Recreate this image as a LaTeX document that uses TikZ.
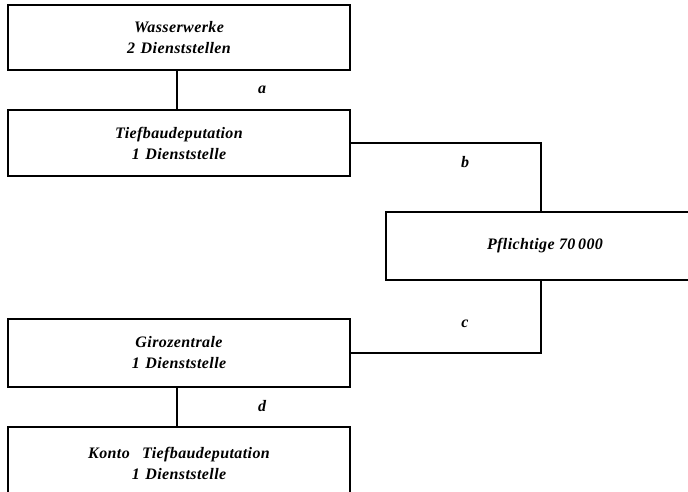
\documentclass[tikz,border=0pt]{standalone}
\usepackage{fontspec}
\setmainfont{Liberation Serif}
\newcommand{\gap}{\hspace{0.35em}}
\begin{document}
\begin{tikzpicture}[x=1pt,y=-1pt,
  box/.style={draw,line width=1.2pt,inner sep=0pt,align=center,font=\fontsize{16}{21}\selectfont\bfseries\itshape\addfontfeatures{LetterSpace=2.5}},
  lab/.style={font=\fontsize{16}{18}\selectfont\bfseries\itshape},
  conn/.style={line width=1.2pt}]
\clip (0,0) rectangle (688,491);
\node[box,minimum width=342pt,minimum height=65pt] (w) at (179,37.5) {Wasserwerke\\2\gap Dienststellen};
\node[box,minimum width=342pt,minimum height=66pt] (t) at (179,143) {Tiefbaudeputation\\1\gap Dienststelle};
\node[box,minimum width=318pt,minimum height=68pt] (p) at (545,246) {Pflichtige 70\,000};
\node[box,minimum width=342pt,minimum height=68pt] (g) at (179,353) {Girozentrale\\1\gap Dienststelle};
\node[box,minimum width=342pt,minimum height=72pt] (k) at (179,463) {Konto\gap\hspace{0.15em} Tiefbaudeputation\\1\gap Dienststelle};
\draw[conn] ([xshift=-2pt]w.south) -- ([xshift=-2pt]t.north);
\draw[conn] (t.east) -| ([xshift=-4pt]p.north);
\draw[conn] ([xshift=-4pt]p.south) |- (g.east);
\draw[conn] ([xshift=-2pt]g.south) -- ([xshift=-2pt]k.north);
\node[lab] (la) at (262,90) {a};
\node[lab] (lb) at (465,162) {b};
\node[lab] (lc) at (465,324) {c};
\node[lab] (ld) at (262,406) {d};
\end{tikzpicture}
\end{document}
